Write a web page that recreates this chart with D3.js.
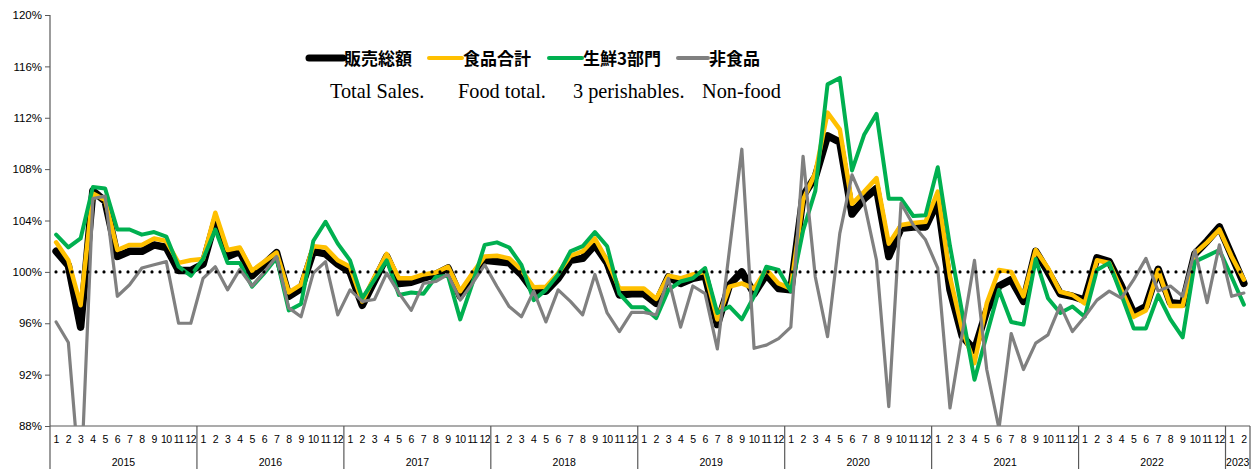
<!DOCTYPE html>
<html>
<head>
<meta charset="utf-8">
<script src="https://cdn.jsdelivr.net/npm/d3@7"></script>
<style>
  body { margin: 0; background: #fff; }
  svg { display: block; }
</style>
</head>
<body>
<svg id="chart" width="1254" height="469"></svg>
<script>
// tick labels / categories
const years = ["2015", "2016", "2017", "2018", "2019", "2020", "2021", "2022", "2023"];
const monthsPerYear = [12, 12, 12, 12, 12, 12, 12, 12, 2];
const monthLabels = ["1", "2", "3", "4", "5", "6", "7", "8", "9", "10", "11", "12"];
const yTicks = [88, 92, 96, 100, 104, 108, 112, 116, 120];

// series values (%), Jan 2015 .. Feb 2023
const totalSales = [
  101.6, 100.5, 95.7, 106.3, 105.5, 101.2, 101.6, 101.6, 102.1, 101.9, 100.1, 100.1,
  100.6, 104.0, 101.2, 101.6, 99.7, 100.6, 101.5, 98.1, 98.7, 101.6, 101.4, 100.6,
  100.0, 97.4, 99.3, 101.2, 99.1, 99.2, 99.5, 99.8, 100.3, 98.1, 99.6, 100.9,
  100.8, 100.7, 99.8, 98.5, 98.5, 99.5, 100.9, 101.05, 102.1, 100.7, 98.2, 98.3,
  98.3, 97.55, 99.6, 99.1, 99.5, 99.7, 95.9, 99.0, 100.0, 98.3, 99.8, 98.7,
  98.6, 105.9, 107.4, 110.6, 110.1, 104.5, 105.7, 106.5, 101.2, 103.4, 103.5, 103.5,
  105.5, 98.6, 95.0, 93.9, 97.0, 98.9, 99.4, 97.7, 101.6, 100.0, 98.3, 98.1,
  97.8, 101.1, 100.8, 98.9, 96.8, 97.3, 100.2, 97.6, 97.5, 101.4, 102.4, 103.5,
  101.3, 99.1
];
const foodTotal = [
  102.3, 100.9, 97.4, 106.1, 105.6, 101.7, 102.1, 102.1, 102.6, 102.4, 100.7, 100.9,
  101.0, 104.6, 101.7, 101.9, 100.1, 100.8, 101.5, 98.4, 99.0, 102.0, 101.9, 100.9,
  100.4, 97.7, 99.6, 101.4, 99.5, 99.5, 99.8, 99.95, 100.4, 98.5, 99.9, 101.2,
  101.25, 101.05, 100.15, 98.8, 98.85, 99.9, 101.25, 101.6, 102.6, 100.9, 98.7, 98.7,
  98.7, 97.9, 99.7, 99.5, 99.8, 100.0, 96.3, 98.85, 99.1, 98.7, 100.2, 99.1,
  98.7, 105.6, 107.7, 112.4, 111.1, 105.3, 106.25, 107.3, 102.2, 103.65, 103.8, 103.9,
  106.25, 99.6, 95.5, 92.9, 97.55, 100.15, 100.0, 98.1, 101.7, 100.3, 98.45, 98.2,
  97.55, 100.9, 100.7, 98.6, 96.5, 97.0, 100.15, 97.35, 97.35, 101.45, 102.3, 103.3,
  101.2, 99.4
];
const perishables = [
  102.9, 101.9, 102.6, 106.6, 106.5, 103.3, 103.3, 102.9, 103.1, 102.75, 100.4, 99.7,
  101.0, 103.3, 100.7, 100.7, 98.85, 99.9, 101.1, 97.0, 97.5, 102.4, 103.9, 102.2,
  100.9, 97.95, 99.4, 100.9, 98.2, 98.4, 98.3, 99.6, 99.7, 96.3, 99.1, 102.1,
  102.3, 101.9, 100.55, 97.8, 98.6, 99.8, 101.6, 102.0, 103.1, 102.0, 98.3, 97.25,
  97.25, 96.4, 98.6, 99.25, 99.5, 100.3, 96.8, 97.3, 96.3, 98.1, 100.4, 100.15,
  98.5, 103.2, 106.3, 114.6, 115.1, 107.9, 110.7, 112.3, 105.7, 105.7, 104.35, 104.4,
  108.15, 102.0, 96.8, 91.6, 95.1, 98.6, 96.1, 95.9, 101.0, 97.95, 96.8, 97.3,
  96.5, 100.15, 100.7, 98.2, 95.6, 95.6, 98.2, 96.3, 94.9, 100.8, 101.25, 101.7,
  99.6, 97.45
];
const nonFood = [
  96.1, 94.5, 83.0, 105.7, 105.9, 98.1, 99.0, 100.3, 100.55, 100.8, 96.0, 96.0,
  99.5, 100.4, 98.6, 100.2, 98.9, 100.0, 101.2, 97.2, 96.5, 99.9, 100.8, 96.65,
  98.6, 97.7, 97.85, 99.9, 98.35, 97.0, 99.1, 99.25, 99.8, 97.8, 99.1, 100.55,
  98.86, 97.3, 96.5, 98.5, 96.1, 98.6, 97.7, 96.65, 99.8, 96.8, 95.35, 96.85,
  96.85, 96.65, 99.5, 95.7, 98.9, 98.3, 94.0, 101.8, 109.55, 94.05, 94.3, 94.8,
  95.7, 109.0, 99.6, 94.96, 103.0, 107.55, 105.35, 100.9, 89.5, 105.35, 103.65, 102.5,
  100.3, 89.4, 95.2, 100.9, 92.4, 87.8, 95.2, 92.4, 94.45, 95.1, 97.4, 95.35,
  96.5, 97.8, 98.5, 97.95, 99.4, 101.05, 98.5, 98.9, 98.1, 101.7, 97.6, 102.1,
  98.1, 98.35
];

const seriesNames = ["販売総額", "食品合計", "生鮮3部門", "非食品"];
const seriesEnglish = ["Total Sales.", "Food total.", "3 perishables.", "Non-food"];

const categories = years.flatMap((yr, i) =>
  monthLabels.slice(0, monthsPerYear[i]).map(m => yr + "-" + m));

const svg = d3.select("svg#chart");
const plotLeft = 50, plotRight = 1250, plotTop = 15, plotBottom = 426, svgH = 469;

const x = d3.scaleBand().domain(categories).range([plotLeft, plotRight]);
const y = d3.scaleLinear().domain([88, 120]).range([plotBottom, plotTop]);
const bw = x.bandwidth();

const axisColor = "#595959";
const sansFont = "'Liberation Sans', Arial, sans-serif";

// clip lines to plot area
svg.append("defs").append("clipPath").attr("id", "plot-clip")
  .append("rect")
  .attr("x", plotLeft).attr("y", plotTop)
  .attr("width", plotRight - plotLeft).attr("height", plotBottom - plotTop);

// y axis
const yAxis = svg.append("g")
  .attr("transform", `translate(${plotLeft},0)`)
  .call(d3.axisLeft(y).tickValues(yTicks).tickFormat(d => d + "%").tickSize(5).tickSizeOuter(0).tickPadding(3));
yAxis.select(".domain").remove();
yAxis.selectAll(".tick line").attr("stroke", axisColor);
yAxis.selectAll("text")
  .attr("font-family", sansFont)
  .attr("font-size", 11.5)
  .attr("fill", "#000");

svg.append("line")
  .attr("x1", plotLeft).attr("x2", plotLeft)
  .attr("y1", plotTop).attr("y2", svgH)
  .attr("stroke", axisColor).attr("stroke-width", 1.2);

// x axis: months
const xAxis = svg.append("g")
  .attr("transform", `translate(0,${plotBottom})`)
  .call(d3.axisBottom(x).tickFormat(d => d.split("-")[1]).tickSize(0).tickPadding(10));
xAxis.select(".domain").remove();
xAxis.selectAll("text")
  .attr("font-family", sansFont)
  .attr("font-size", 10.5)
  .attr("letter-spacing", -0.6)
  .attr("fill", "#000");

svg.append("line")
  .attr("x1", plotLeft).attr("x2", plotRight)
  .attr("y1", plotBottom).attr("y2", plotBottom)
  .attr("stroke", axisColor).attr("stroke-width", 1.2);

// year separators + year labels
let start = 0;
const yearInfo = years.map((yr, i) => {
  const first = categories[start];
  const last = categories[start + monthsPerYear[i] - 1];
  start += monthsPerYear[i];
  return { yr, x0: x(first), x1: x(last) + bw };
});

svg.append("g").selectAll("line")
  .data(yearInfo)
  .enter().append("line")
  .attr("x1", d => d.x1).attr("x2", d => d.x1)
  .attr("y1", plotBottom).attr("y2", svgH)
  .attr("stroke", axisColor).attr("stroke-width", 1.2);

svg.append("g").selectAll("text")
  .data(yearInfo)
  .enter().append("text")
  .attr("x", d => (d.x0 + d.x1) / 2)
  .attr("y", 466)
  .attr("text-anchor", "middle")
  .attr("font-family", sansFont)
  .attr("font-size", 10.5)
  .attr("fill", "#000")
  .text(d => d.yr);

// lines
const line = d3.line()
  .x((d, i) => x(categories[i]) + bw / 2)
  .y(d => y(d));

const series = [
  { values: totalSales, color: "#000000", width: 7.5 },
  { values: foodTotal, color: "#FFC000", width: 4.5 },
  { values: perishables, color: "#00B050", width: 4 },
  { values: nonFood, color: "#808080", width: 3.2 }
];

const lines = svg.append("g").attr("clip-path", "url(#plot-clip)");
lines.selectAll("path")
  .data(series)
  .enter().append("path")
  .attr("d", s => line(s.values))
  .attr("fill", "none")
  .attr("stroke", s => s.color)
  .attr("stroke-width", s => s.width)
  .attr("stroke-linejoin", "round")
  .attr("stroke-linecap", "round");

// 100% dotted reference
svg.append("line")
  .attr("x1", plotLeft + 6).attr("x2", plotRight - 4)
  .attr("y1", y(100)).attr("y2", y(100))
  .attr("stroke", "#000")
  .attr("stroke-width", 3.2)
  .attr("stroke-linecap", "round")
  .attr("stroke-dasharray", "0 8");

// legend
const legendX = [309, 429, 549, 678];
const legendLineW = [34, 33, 33, 30];
const legend = svg.append("g").attr("class", "legend");
series.forEach((s, i) => {
  legend.append("line")
    .attr("x1", legendX[i]).attr("x2", legendX[i] + legendLineW[i])
    .attr("y1", 58).attr("y2", 58)
    .attr("stroke", s.color)
    .attr("stroke-width", i === 0 ? 7 : 4)
    .attr("stroke-linecap", "round");
  legend.append("text")
    .attr("x", legendX[i] + legendLineW[i] + 1)
    .attr("y", 65)
    .attr("font-family", "'Noto Sans CJK JP', sans-serif")
    .attr("font-weight", 700)
    .attr("font-size", 17)
    .attr("fill", "#000")
    .text(seriesNames[i]);
});

const engX = [330, 458, 573, 702];
legend.selectAll("text.eng")
  .data(seriesEnglish)
  .enter().append("text")
  .attr("class", "eng")
  .attr("x", (d, i) => engX[i])
  .attr("y", 98)
  .attr("font-family", "'Liberation Serif', 'Times New Roman', serif")
  .attr("font-size", 20.3)
  .attr("fill", "#000")
  .text(d => d);
</script>
</body>
</html>
